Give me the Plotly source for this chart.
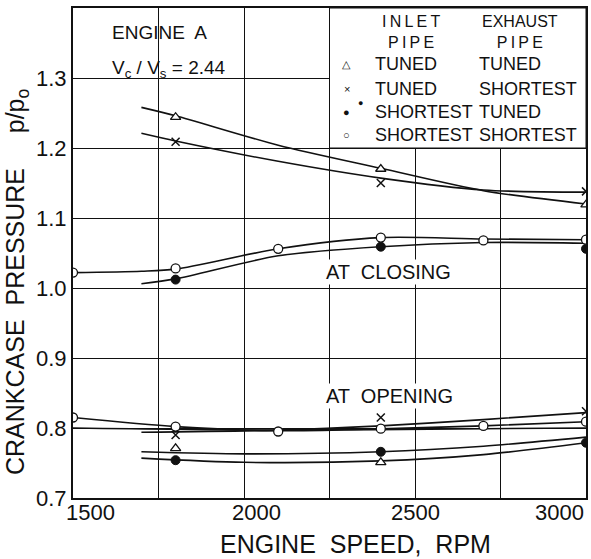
"""
Crankcase pressure vs engine speed, Engine A (Vc/Vs = 2.44).
"""

import plotly.graph_objects as go

FONT = "Liberation Sans, Arial, sans-serif"
INK = "#111111"

# --- data --------------------------------------------------------------------
# closing: measured points
tt_close_x = [1800, 2400, 3000]
tt_close_y = [1.244, 1.170, 1.119]
ts_close_x = [1800, 2400, 3000]
ts_close_y = [1.209, 1.150, 1.138]
st_close_x = [1800, 2400, 3000]
st_close_y = [1.012, 1.059, 1.056]
ss_close_x = [1500, 1800, 2100, 2400, 2700, 3000]
ss_close_y = [1.022, 1.028, 1.056, 1.072, 1.068, 1.069]

# closing: faired curves
tt_close_fit_x = [1700, 1800, 2100, 2400, 2700, 3000]
tt_close_fit_y = [1.258, 1.246, 1.204, 1.171, 1.139, 1.120]
ts_close_fit_x = [1700, 1800, 2100, 2400, 2700, 3000]
ts_close_fit_y = [1.221, 1.210, 1.181, 1.157, 1.140, 1.137]
st_close_fit_x = [1700, 1800, 2100, 2400, 2700, 3000]
st_close_fit_y = [1.006, 1.013, 1.046, 1.059, 1.065, 1.064]
ss_close_fit_x = [1500, 1700, 1800, 2100, 2400, 2700, 3000]
ss_close_fit_y = [1.022, 1.024, 1.027, 1.056, 1.072, 1.070, 1.069]

# opening: measured points
tt_open_x = [1800, 2400]
tt_open_y = [0.771, 0.751]
ts_open_x = [1800, 2400, 3000]
ts_open_y = [0.790, 0.815, 0.824]
st_open_x = [1800, 2400, 3000]
st_open_y = [0.754, 0.766, 0.779]
ss_open_x = [1500, 1800, 2100, 2400, 2700, 3000]
ss_open_y = [0.815, 0.802, 0.795, 0.799, 0.803, 0.809]

# opening: faired curves
ss_open_fit_x = [1500, 1800, 2100, 2400, 2700, 3000]
ss_open_fit_y = [0.815, 0.802, 0.796, 0.799, 0.803, 0.809]
flat_open_fit_x = [1500, 2100, 2700, 3000]
flat_open_fit_y = [0.800, 0.797, 0.799, 0.800]
ts_open_fit_x = [1700, 2100, 2400, 2700, 3000]
ts_open_fit_y = [0.794, 0.797, 0.803, 0.812, 0.822]
upper_open_fit_x = [1700, 2000, 2400, 2700, 3000]
upper_open_fit_y = [0.766, 0.763, 0.766, 0.774, 0.787]
lower_open_fit_x = [1700, 2000, 2400, 2700, 3000]
lower_open_fit_y = [0.757, 0.751, 0.753, 0.762, 0.779]

x_ticks = [1500, 2000, 2500, 3000]
y_ticks = [0.7, 0.8, 0.9, 1.0, 1.1, 1.2, 1.3]

legend_rows = [
    ("\u25b3", "TUNED", "TUNED"),
    ("\u00d7", "TUNED", "SHORTEST"),
    ("\u25cf", "SHORTEST", "TUNED"),
    ("\u25cb", "SHORTEST", "SHORTEST"),
]

fig = go.Figure()

# faired curves
curves = [
    (tt_close_fit_x, tt_close_fit_y),
    (ts_close_fit_x, ts_close_fit_y),
    (st_close_fit_x, st_close_fit_y),
    (ss_close_fit_x, ss_close_fit_y),
    (ss_open_fit_x, ss_open_fit_y),
    (flat_open_fit_x, flat_open_fit_y),
    (ts_open_fit_x, ts_open_fit_y),
    (upper_open_fit_x, upper_open_fit_y),
    (lower_open_fit_x, lower_open_fit_y),
]
for cx, cy in curves:
    fig.add_trace(
        go.Scatter(
            x=cx,
            y=cy,
            mode="lines",
            line={"color": INK, "width": 1.6, "shape": "spline", "smoothing": 0.8},
            showlegend=False,
            hoverinfo="skip",
        )
    )

# measured points
open_circle = {"symbol": "circle", "size": 9, "color": "white",
               "line": {"color": INK, "width": 1.3}}
filled_circle = {"symbol": "circle", "size": 9, "color": INK,
                 "line": {"color": INK, "width": 1}}
triangle = {"symbol": "triangle-up", "size": 9, "color": "white",
            "line": {"color": INK, "width": 1.3}}
cross = {"symbol": "x-thin", "size": 8, "color": INK,
         "line": {"color": INK, "width": 1.5}}

points = [
    (tt_close_x, tt_close_y, triangle),
    (ts_close_x, ts_close_y, cross),
    (st_close_x, st_close_y, filled_circle),
    (ss_close_x, ss_close_y, open_circle),
    (tt_open_x, tt_open_y, triangle),
    (ts_open_x, ts_open_y, cross),
    (st_open_x, st_open_y, filled_circle),
    (ss_open_x, ss_open_y, open_circle),
]
for px, py, marker in points:
    fig.add_trace(
        go.Scatter(x=px, y=py, mode="markers", marker=marker,
                   showlegend=False, hoverinfo="skip")
    )

# white patches that break the grid behind the lettering
fig.add_shape(type="rect", xref="x", yref="y", x0=2250, x1=3000, y0=1.2, y1=1.4,
              fillcolor="white", line={"color": INK, "width": 1}, layer="between")
fig.add_shape(type="rect", xref="paper", yref="paper", x0=0.047, x1=0.324,
              y0=0.839, y1=1.0, fillcolor="white", line={"width": 0},
              layer="between")

ann = []
txt = {"family": FONT, "color": INK}


def label(x, y, text, size, xanchor="center", **kw):
    """Paper-referenced text with an explicit anchor."""
    ann.append(dict(xref="paper", yref="paper", x=x, y=y, text=text,
                    xanchor=xanchor, yanchor="middle", showarrow=False,
                    font={**txt, "size": size}, **kw))


# engine label
label(0.072, 0.949, "ENGINE  A", 19, "left")
label(0.072, 0.876, "V<sub>c</sub> / V<sub>s</sub> = 2.44", 19, "left")

# legend block (column headers are two-line texts)
label(0.658, 0.952, "I\u2009N\u2009L\u2009E\u2009T<br>P\u2009I\u2009P\u2009E", 16)
label(0.871, 0.952, "EXHAUST<br>P\u2009I\u2009P\u2009E", 16)
row_y = [0.886, 0.835, 0.788, 0.741]
for (sym, inlet, exhaust), ry in zip(legend_rows, row_y):
    label(0.534, ry, sym, 11)
    label(0.584, ry, inlet, 18, "left")
    label(0.788, ry, exhaust, 18, "left")
label(0.561, 0.806, "\u25cf", 9)

# curve group labels
label(0.489, 0.461, "AT  CLOSING", 20, "left", bgcolor="white")
label(0.489, 0.208, "AT  OPENING", 20, "left", bgcolor="white")

# x tick labels
tick_anchor = ["left", "center", "center", "right"]
tick_shift = [-9, 12, 0, 0]
for xv, anchor, shift in zip(x_ticks, tick_anchor, tick_shift):
    ann.append(dict(xref="x", yref="paper", x=xv, y=-0.0286, xanchor=anchor,
                    yanchor="middle", xshift=shift, text=str(xv),
                    showarrow=False, font={**txt, "size": 22}))

# axis titles
label(0.55, -0.094, "ENGINE  SPEED,  RPM", 25)
label(-0.109, 0.441, "CRANKCASE  PRESSURE     p/p<sub>o</sub>", 25, textangle=-90)

fig.update_layout(
    width=591,
    height=559,
    margin={"l": 73, "r": 3, "t": 8, "b": 61},
    paper_bgcolor="white",
    plot_bgcolor="white",
    font={"family": FONT, "color": INK},
    annotations=ann,
    xaxis={
        "range": [1500, 3000],
        "tick0": 1500,
        "dtick": 250,
        "showgrid": True,
        "gridcolor": INK,
        "gridwidth": 1,
        "zeroline": False,
        "showticklabels": False,
        "showline": True,
        "mirror": True,
        "linecolor": INK,
        "linewidth": 2,
    },
    yaxis={
        "range": [0.7, 1.4],
        "tickvals": y_ticks,
        "ticktext": [f"{v:.1f}" for v in y_ticks],
        "showgrid": True,
        "gridcolor": INK,
        "gridwidth": 1,
        "zeroline": False,
        "showline": True,
        "mirror": True,
        "linecolor": INK,
        "linewidth": 2,
        "tickfont": {"family": FONT, "size": 22, "color": INK},
    },
)

fig.write_html(
    "out.html",
    config={"displayModeBar": False},
    post_script="document.body.style.margin = '0';",
)
